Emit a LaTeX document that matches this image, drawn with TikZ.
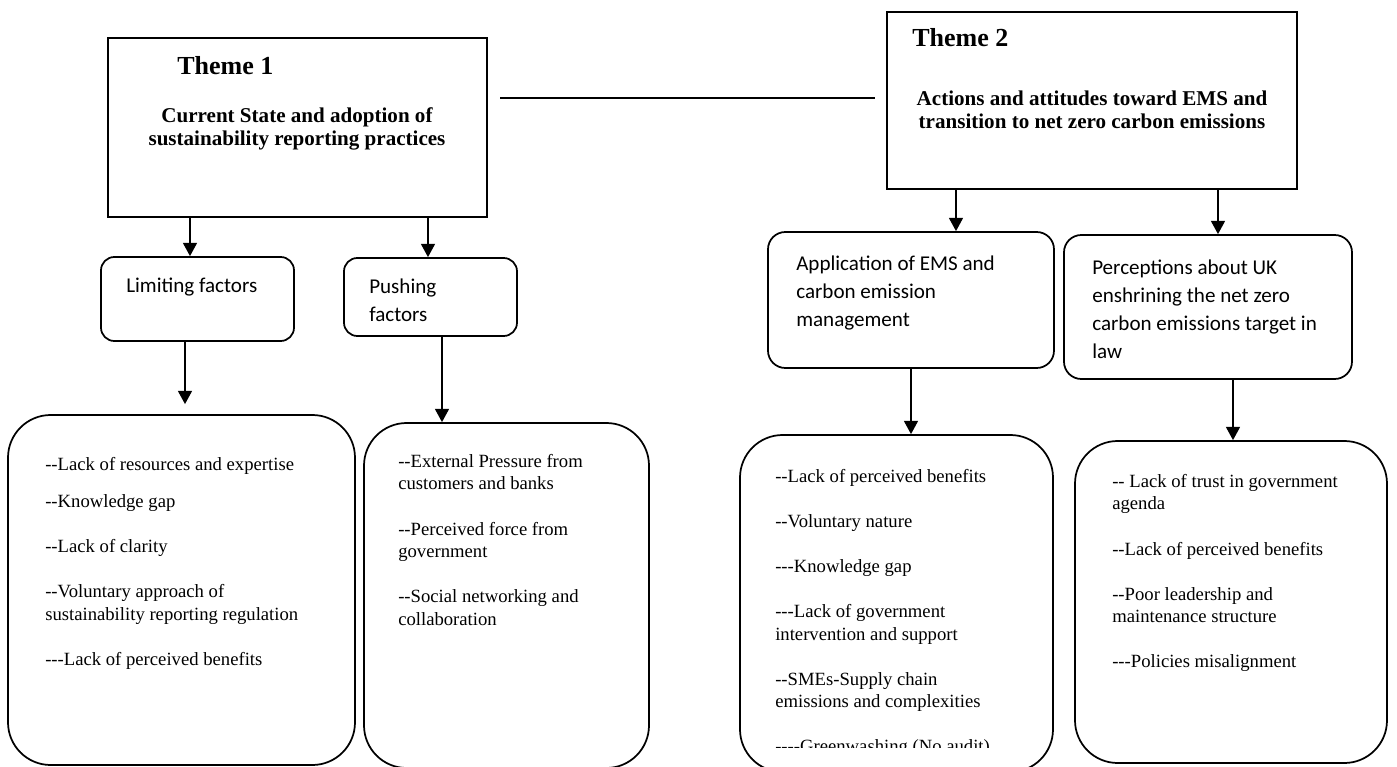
\documentclass[tikz,border=0pt]{standalone}
\usepackage{fontspec}
\setmainfont{Liberation Serif}[Ligatures=TeXOff]
\newfontfamily\calibri{Carlito}
\usetikzlibrary{arrows.meta}

\begin{document}
\begin{tikzpicture}[x=0.75pt, y=-0.75pt, every node/.style={inner sep=0pt}, >={Triangle[length=10pt,width=10.5pt]},
	themebox/.style={draw, line width=1.3pt},
	subbox/.style={draw, line width=1.3pt, rounded corners=10pt},
	listbox/.style={draw, line width=1.3pt, rounded corners=32pt},
	themehead/.style={font=\fontsize{19.5}{23}\selectfont\bfseries, anchor=base west},
	themetext/.style={font=\fontsize{15.8}{17.2}\selectfont\bfseries, align=center, anchor=north},
	subtext/.style={font=\calibri\fontsize{15.8}{21}\selectfont, align=left, anchor=north west},
	listtext/.style={font=\fontsize{14}{16.9}\selectfont, align=left, anchor=north west},
	arr/.style={->, line width=1.3pt}]
	\useasboundingbox (0,0) rectangle (1397,767);
	% the two themes and the line between them
	\node[themebox, minimum width=284.25pt, minimum height=134.25pt] (theme1) at (297.5,127.5) {};
	\node[themehead] (head1) at (177,75) {Theme 1};
	\node[themetext] (title1) at (297,107.5) {Current State and adoption of\\sustainability reporting practices};
	\node[themebox, minimum width=307.5pt, minimum height=132.75pt] (theme2) at (1092,100.5) {};
	\node[themehead] (head2) at (912,47) {Theme 2};
	\node[themetext] (title2) at (1092,90.5) {Actions and attitudes toward EMS and\\transition to net zero carbon emissions};
	\coordinate (linkA) at (500,98);
	\coordinate (linkB) at (875,98);
	\draw[line width=1.3pt] (linkA) -- (linkB);
	% the sub-themes
	\node[subbox, minimum width=144.75pt, minimum height=63pt] (limit) at (197.5,299) {};
	\node[subtext] (limitT) at (126,278) {Limiting factors};
	\node[subbox, minimum width=129.75pt, minimum height=58.5pt] (push) at (430.5,297) {};
	\node[subtext] (pushT) at (369,279) {Pushing\\factors};
	\node[subbox, rounded corners=13pt, minimum width=214.5pt, minimum height=102pt] (apply) at (911,300) {};
	\node[subtext] (applyT) at (796,256) {Application of EMS and\\carbon emission\\management};
	\node[subbox, rounded corners=13pt, minimum width=216pt, minimum height=108pt] (percep) at (1208,307) {};
	\node[subtext] (percepT) at (1092,260) {Perceptions about UK\\enshrining the net zero\\carbon emissions target in\\law};
	\draw[arr] (theme1.south -| 190,0) -- (limit.north -| 190,0);
	\draw[arr] (theme1.south -| 428,0) -- (push.north -| 428,0);
	\draw[arr] (theme2.south -| 956,0) -- (apply.north -| 956,0);
	\draw[arr] (theme2.south -| 1218,0) -- (percep.north -| 1218,0);
	% the lists of codes
	\node[listbox, minimum width=260.25pt, minimum height=262.5pt] (list1) at (181.5,590) {};
	\node[listtext] (list1T) at (45,457) {--Lack of resources and expertise\\[10.9pt]
		--Knowledge gap\\[16.9pt]
		--Lack of clarity\\[16.9pt]
		--Voluntary approach of\\sustainability reporting regulation\\[16.9pt]
		---Lack of perceived benefits};
	\node[listbox, minimum width=213.75pt, minimum height=258.75pt] (list2) at (506.5,595.5) {};
	\node[listtext] (list2T) at (398,454) {--External Pressure from\\customers and banks\\[16.9pt]
		--Perceived force from\\government\\[16.9pt]
		--Social networking and\\collaboration};
	\node[listbox, minimum width=234.75pt, minimum height=252.75pt] (list3) at (896.5,603.5) {};
	\begin{scope}
		\clip (740,435) rectangle (1053,747);
		\node[listtext] (list3T) at (775,469) {--Lack of perceived benefits\\[16.9pt]
			--Voluntary nature\\[16.9pt]
			---Knowledge gap\\[16.9pt]
			---Lack of government\\intervention and support\\[16.9pt]
			--SMEs-Supply chain\\emissions and complexities\\[16.9pt]
			----Greenwashing (No audit)};
	\end{scope}
	\node[listbox, minimum width=234pt, minimum height=241.5pt] (list4) at (1231,602) {};
	\node[listtext] (list4T) at (1112,474) {-- Lack of trust in government\\agenda\\[16.9pt]
		--Lack of perceived benefits\\[16.9pt]
		--Poor leadership and\\maintenance structure\\[16.9pt]
		---Policies misalignment};
	\draw[arr, shorten >=7.5pt] (limit.south -| 185,0) -- (list1.north -| 185,0);
	\draw[arr] (push.south -| 442,0) -- (list2.north -| 442,0);
	\draw[arr] (apply.south) -- (list3.north -| apply.south);
	\draw[arr] (percep.south -| 1233,0) -- (list4.north -| 1233,0);
\end{tikzpicture}
\end{document}
